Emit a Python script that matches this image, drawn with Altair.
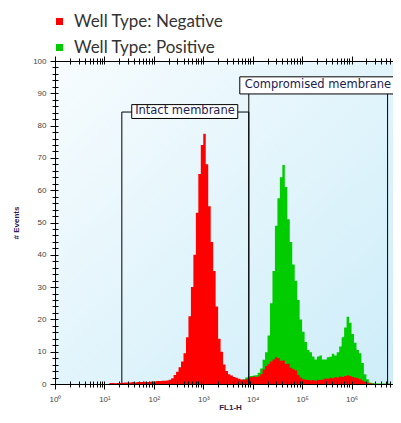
import altair as alt
import pandas as pd

# ---------------- data ----------------
BIN_WIDTH_DECADES = 0.05
BIN_START_DECADE = [round(i * BIN_WIDTH_DECADES, 2) for i in range(140)]  # 10^0 .. 10^7

NEGATIVE_COUNTS = (
    [0.0] * 22
    + [0.3, 0.3, 0.2, 0.3, 0.3, 0.4, 0.5, 0.5, 0.5, 0.6,
       0.5, 0.6, 0.6, 0.6, 0.7, 0.6, 0.7, 0.8, 0.8, 0.9,
       0.9, 1.0, 1.0, 1.1, 1.3, 1.8, 2.8, 3.8, 5.2, 7.0,
       9.5, 14.5, 21, 30, 40, 53, 65, 74, 77.5, 68,
       55, 44, 35, 24, 14, 10, 6, 4, 3.0, 2.6,
       2.2, 1.9, 1.6, 1.4, 1.3, 1.5, 1.8, 2.2, 2.3, 2.2,
       2.3, 3.0, 4.5, 5.6, 6.2, 7.0, 7.6, 8.3, 8.0, 7.2,
       7.3, 6.2, 6.3, 5.0, 4.6, 4.2, 2.8, 2.0, 1.5, 1.3,
       1.2, 1.1, 1.2, 1.0, 1.3, 1.2, 1.4, 1.7, 1.6, 1.9,
       1.8, 2.1, 2.0, 2.3, 2.2, 2.5, 2.7, 2.5, 2.2, 2.0,
       1.8, 1.5, 1.1, 0.7, 0.4, 0.2, 0.1]
    + [0.0] * 11
)

POSITIVE_COUNTS = (
    [0.0] * 70
    + [0.5, 0.5, 0.5, 0.5, 0.5, 0.5, 1.5, 2.0, 2.3, 2.5,
       2.6, 2.7, 3.5, 4.8, 7.5, 9.8, 15, 25, 35, 49,
       57.5, 64, 67.8, 61, 51, 44, 37, 32, 26, 20,
       16.2, 13, 10.5, 9.8, 8.5, 7.6, 8.5, 8.8, 7.6, 7.6,
       8.3, 8.4, 9.4, 8.8, 9.8, 11.6, 14.5, 17.5, 20.8, 19,
       15.5, 12.8, 10.5, 9.5, 6.5, 3.0, 1.5, 0.5, 0.3, 0.2,
       0.15, 0.15, 0.15, 0.15, 0.15, 0.15]
    + [0.0] * 4
)

WELL_TYPES = ["Negative", "Positive"]
WELL_COLORS = ["#ff0000", "#00cc00"]

# gates (FL1-H boundaries and gate level in # Events)
GATE_NAMES = ["Intact membrane", "Compromised membrane"]
GATE_LO = [22.5, 8340]
GATE_HI = [8340, 5.36e6]
GATE_LEVEL = [84.2, 92.5]
# label boxes
BOX_X_LO = [35.7, 5480]
BOX_X_HI = [4990, 9.2e6]
BOX_Y_LO = [82.2, 89.8]
BOX_Y_HI = [86.5, 95.1]
LABEL_X = [426, 2.09e5]
LABEL_Y = [84.4, 92.45]

# the reference is cropped just short of 10^7 on the right
X_DOMAIN = [1, 6.9e6]
Y_DOMAIN = [0, 100]
X_MAJOR = [1, 10, 100, 1000, 10000, 100000, 1000000]
X_SUPERSCRIPTS = ["⁰", "¹", "²", "³", "⁴", "⁵", "⁶"]

# ---------------- tables ----------------
def series_points(name, counts):
    pts = [{"type": name, "x": 10 ** d, "count": c}
           for d, c in zip(BIN_START_DECADE, counts)]
    last = BIN_START_DECADE[-1] + BIN_WIDTH_DECADES
    pts.append({"type": name, "x": 10 ** last, "count": 0.0})
    return pd.DataFrame(pts)

pos_df = series_points("Positive", POSITIVE_COUNTS)
neg_df = series_points("Negative", NEGATIVE_COUNTS)

gates_v = pd.DataFrame({
    "x": GATE_LO + GATE_HI,
    "top": GATE_LEVEL + GATE_LEVEL,
    "bottom": [0, 0, 0, 0],
})
gates_h = pd.DataFrame({"lo": GATE_LO, "hi": GATE_HI, "y": GATE_LEVEL})
boxes = pd.DataFrame({"x0": BOX_X_LO, "x1": BOX_X_HI, "y0": BOX_Y_LO,
                      "y1": BOX_Y_HI, "tx": LABEL_X, "ty": LABEL_Y,
                      "name": GATE_NAMES})
bg = pd.DataFrame({"x0": [X_DOMAIN[0]], "x1": [X_DOMAIN[1]],
                   "y0": [Y_DOMAIN[0]], "y1": [Y_DOMAIN[1]]})

X_SCALE = alt.Scale(type="log", domain=X_DOMAIN, nice=False)
Y_SCALE = alt.Scale(domain=Y_DOMAIN, nice=False, zero=True)

x_minor = [k * 10 ** p for p in range(7) for k in range(2, 10)
           if k * 10 ** p <= X_DOMAIN[1]]
x_ticks = X_MAJOR + x_minor
major_test = f"indexof({X_MAJOR}, datum.value) >= 0"
x_label_expr = (f"{major_test} ? '10' + {X_SUPERSCRIPTS}"
                f"[indexof({X_MAJOR}, datum.value)] : ''")
y_ticks = list(range(0, 101, 2))
y_major_test = "datum.value % 10 == 0"

AXIS_COMMON = dict(domainColor="#000000", tickColor="#000000", domainWidth=1,
                   tickWidth=1, grid=False, zindex=2, labelOverlap=False,
                   labelFlush=False)
INWARD = dict(tickColor="#000000", tickWidth=1, grid=False, zindex=2,
              domain=False, labels=False, title=None)

x_axis_bottom = alt.Axis(
    orient="bottom", values=x_ticks, labelExpr=x_label_expr,
    tickSize={"condition": {"test": major_test, "value": 5}, "value": 3},
    labelFont="Liberation Sans", labelFontSize=8, labelColor="#444444",
    labelPadding=6, title="FL1-H", titleFont="Liberation Sans",
    titleFontSize=8, titleFontWeight="bold", titleColor="#2b2250",
    titleY=19, titleX=175, titleBaseline="top", **AXIS_COMMON)
y_axis_left = alt.Axis(
    orient="left", values=y_ticks,
    labelExpr=f"{y_major_test} ? datum.label : ''",
    tickSize={"condition": {"test": y_major_test, "value": 5}, "value": 3},
    labelFont="Liberation Sans", labelFontSize=8, labelColor="#444444",
    labelPadding=4, title="# Events", titleFont="Liberation Sans",
    titleFontSize=8, titleFontWeight="bold", titleColor="#2b2250",
    titlePadding=12, **AXIS_COMMON)
x_axis_top = alt.Axis(
    orient="top", values=x_ticks, labels=False, title=None,
    tickSize={"condition": {"test": major_test, "value": 5}, "value": 3},
    **AXIS_COMMON)
# inward halves of the crossing ticks
x_axis_bottom_in = alt.Axis(orient="bottom", values=x_ticks, offset=-3,
                            tickSize=3, **INWARD)
y_axis_left_in = alt.Axis(orient="left", values=y_ticks, offset=-3,
                          tickSize=3, **INWARD)
x_axis_top_in = alt.Axis(orient="top", values=x_ticks, offset=-3,
                         tickSize=3, **INWARD)

LEGEND = alt.Legend(
    title=None, orient="none", legendX=-4, legendY=-48,
    symbolType="square", symbolSize=49, symbolStrokeWidth=0,
    labelFont="Lato", labelFontSize=17, labelColor="#333333",
    labelOffset=6, rowPadding=8, padding=0,
    labelExpr="'Well Type: ' + datum.label",
)
COLOR = alt.Color("type:N",
                  scale=alt.Scale(domain=WELL_TYPES, range=WELL_COLORS),
                  legend=LEGEND)

background = alt.Chart(bg).mark_rect(
    fill=alt.Gradient(gradient="linear", x1=0, y1=0, x2=1, y2=1,
                      stops=[alt.GradientStop(color="#f7fcfe", offset=0),
                             alt.GradientStop(color="#cdedf9", offset=1)])
).encode(
    x=alt.X("x0:Q", scale=X_SCALE, axis=x_axis_top),
    x2="x1:Q",
    y=alt.Y("y0:Q", scale=Y_SCALE, axis=None),
    y2="y1:Q",
)

positive_area = alt.Chart(pos_df).mark_area(interpolate="step-after").encode(
    x=alt.X("x:Q", scale=X_SCALE, axis=x_axis_bottom),
    y=alt.Y("count:Q", scale=Y_SCALE, axis=y_axis_left, stack=None),
    color=COLOR,
)
negative_area = alt.Chart(neg_df).mark_area(interpolate="step-after").encode(
    x=alt.X("x:Q", scale=X_SCALE, axis=None),
    y=alt.Y("count:Q", scale=Y_SCALE, axis=None, stack=None),
    color=COLOR,
)

gate_vertical = alt.Chart(gates_v).mark_rule(color="#000000", strokeWidth=1).encode(
    x=alt.X("x:Q", scale=X_SCALE, axis=x_axis_bottom_in),
    y=alt.Y("bottom:Q", scale=Y_SCALE, axis=y_axis_left_in),
    y2="top:Q",
)
gate_horizontal = alt.Chart(gates_h).mark_rule(color="#000000", strokeWidth=1).encode(
    x=alt.X("lo:Q", scale=X_SCALE, axis=x_axis_top_in),
    x2="hi:Q",
    y=alt.Y("y:Q", scale=Y_SCALE, axis=None),
)
gate_boxes = alt.Chart(boxes).mark_rect(
    fill="#ffffff", stroke="#000000", strokeWidth=1
).encode(
    x=alt.X("x0:Q", scale=X_SCALE, axis=None),
    x2="x1:Q",
    y=alt.Y("y0:Q", scale=Y_SCALE, axis=None),
    y2="y1:Q",
)
gate_labels = alt.Chart(boxes).mark_text(
    font="DejaVu Sans", fontSize=11.5, color="#202050", baseline="middle",
    align="center"
).encode(
    x=alt.X("tx:Q", scale=X_SCALE, axis=None),
    y=alt.Y("ty:Q", scale=Y_SCALE, axis=None),
    text="name:N",
)

chart = alt.layer(
    background, positive_area, negative_area, gate_vertical, gate_horizontal,
    gate_boxes, gate_labels
).resolve_axis(
    x="independent", y="independent"
).properties(
    width=338, height=323,
    autosize=alt.AutoSizeParams(type="none"),
    padding={"left": 47, "top": 53, "right": 0, "bottom": 29},
).configure_view(stroke=None)

chart.save("out.html", embed_options={"renderer": "svg", "actions": False})
